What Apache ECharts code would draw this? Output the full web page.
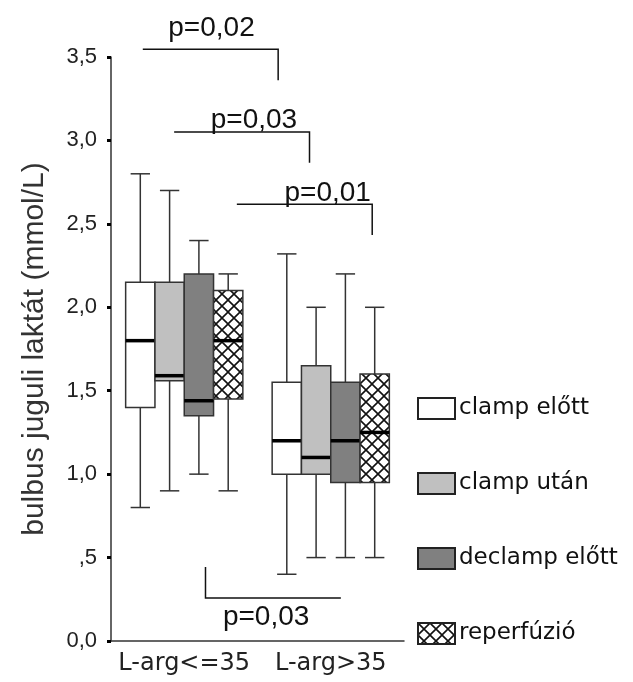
<!DOCTYPE html>
<html><head><meta charset="utf-8">
<script src="https://cdn.jsdelivr.net/npm/echarts@6/dist/echarts.min.js"></script>
<style>html,body{margin:0;padding:0;background:#fff}#c{width:633px;height:682px}</style>
</head><body><div id="c"></div>
<script>
// ---- data ----
const categories = ['L-arg<=35', 'L-arg>35'];
const seriesNames = ['clamp előtt', 'clamp után', 'declamp előtt', 'reperfúzió'];
// each entry: [min, q1, median, q3, max] for categories[0], categories[1]
const clampElott   = [[0.80, 1.40, 1.80, 2.15, 2.80], [0.40, 1.00, 1.20, 1.55, 2.32]];
const clampUtan    = [[0.90, 1.56, 1.59, 2.15, 2.70], [0.50, 1.00, 1.10, 1.65, 2.00]];
const declampElott = [[1.00, 1.35, 1.44, 2.20, 2.40], [0.50, 0.95, 1.20, 1.55, 2.20]];
const reperfuzio   = [[0.90, 1.45, 1.80, 2.10, 2.20], [0.50, 0.95, 1.25, 1.60, 2.00]];
const yTickLabels = ['0,0', ',5', '1,0', '1,5', '2,0', '2,5', '3,0', '3,5'];
const pLabels = ['p=0,02', 'p=0,03', 'p=0,01', 'p=0,03'];

// ---- styling ----
const pc = document.createElement('canvas');
pc.width = 12; pc.height = 12;
const g = pc.getContext('2d');
g.fillStyle = '#fff'; g.fillRect(0, 0, 12, 12);
g.strokeStyle = '#111'; g.lineWidth = 1.6;
g.beginPath(); g.moveTo(0, 0); g.lineTo(12, 12); g.moveTo(12, 0); g.lineTo(0, 12); g.stroke();
const hatch = { image: pc, repeat: 'repeat' };
const fills = ['#ffffff', '#c0c0c0', '#808080', hatch];
const allData = [clampElott, clampUtan, declampElott, reperfuzio];

function makeRenderItem(si) {
  return function (params, api) {
    const cat = api.value(0);
    const band = api.size([1, 0])[0];
    const w = band * 0.2;
    const cx = api.coord([cat, 0])[0] + (si - 1.5) * w;
    const yMin = api.coord([cat, api.value(1)])[1];
    const yQ1 = api.coord([cat, api.value(2)])[1];
    const yMed = api.coord([cat, api.value(3)])[1];
    const yQ3 = api.coord([cat, api.value(4)])[1];
    const yMax = api.coord([cat, api.value(5)])[1];
    const cap = w * 0.33;
    const ls = { stroke: '#333', lineWidth: 1.5 };
    return {
      type: 'group',
      children: [
        { type: 'line', shape: { x1: cx, y1: yMax, x2: cx, y2: yQ3 }, style: ls },
        { type: 'line', shape: { x1: cx, y1: yQ1, x2: cx, y2: yMin }, style: ls },
        { type: 'line', shape: { x1: cx - cap, y1: yMax, x2: cx + cap, y2: yMax }, style: ls },
        { type: 'line', shape: { x1: cx - cap, y1: yMin, x2: cx + cap, y2: yMin }, style: ls },
        { type: 'rect', shape: { x: cx - w / 2, y: yQ3, width: w, height: yQ1 - yQ3 },
          style: { fill: fills[si], stroke: '#333', lineWidth: 1.5 } },
        { type: 'line', shape: { x1: cx - w / 2, y1: yMed, x2: cx + w / 2, y2: yMed },
          style: { stroke: '#000', lineWidth: 3.5 } }
      ]
    };
  };
}

const series = seriesNames.map((name, si) => ({
  name: name,
  type: 'custom',
  renderItem: makeRenderItem(si),
  encode: { x: 0, y: [1, 2, 3, 4, 5] },
  itemStyle: { color: fills[si], borderColor: '#222', borderWidth: 1.5 },
  data: allData[si].map((d, ci) => [ci].concat(d)),
  silent: true
}));

const chart = echarts.init(document.getElementById('c'), null, { renderer: 'canvas' });
chart.setOption({
  animation: false,
  backgroundColor: '#fff',
  grid: { left: 111, right: 229, top: 57, bottom: 41, containLabel: false, outerBoundsMode: 'none' },
  legend: {
    data: seriesNames,
    orient: 'vertical',
    left: 417, top: 397,
    padding: 0,
    itemWidth: 37, itemHeight: 21, itemGap: 52,
    icon: 'rect',
    selectedMode: false,
    textStyle: { fontSize: 23, fontFamily: 'DejaVu Sans', color: '#111', padding: [0, 0, 0, -1] }
  },
  xAxis: {
    type: 'category',
    data: categories,
    axisLine: { lineStyle: { color: '#333', width: 1.5 } },
    axisTick: { alignWithLabel: true, length: 4, lineStyle: { color: '#000', width: 3 } },
    axisLabel: { interval: 0, fontSize: 24, fontFamily: 'DejaVu Sans', color: '#222', margin: 11 },
    splitLine: { show: false }
  },
  yAxis: {
    type: 'value',
    min: 0, max: 3.5, interval: 0.5,
    name: 'bulbus juguli laktát (mmol/L)',
    nameLocation: 'middle',
    nameGap: 61,
    nameTextStyle: { fontSize: 30, fontFamily: 'Liberation Sans', color: '#333' },
    axisLine: { show: true, lineStyle: { color: '#333', width: 1.5 } },
    axisTick: { show: true, length: 4, lineStyle: { color: '#000', width: 3 } },
    axisLabel: {
      fontSize: 22, fontFamily: 'Liberation Sans', color: '#222', margin: 14,
      formatter: v => yTickLabels[Math.round(v / 0.5)]
    },
    splitLine: { show: false }
  },
  series: series
});

// ---- significance brackets (category-index / value units) ----
const brackets = [
  { x1: -0.283, x2: 0.641, y: 3.547, yEnd: 3.36, tx: 0.186, ty: 3.67 },
  { x1: -0.069, x2: 0.855, y: 3.05, yEnd: 2.866, tx: 0.476, ty: 3.119 },
  { x1: 0.359, x2: 1.283, y: 2.618, yEnd: 2.433, tx: 0.979, ty: 2.681 },
  { x1: 0.145, x2: 1.069, y: 0.258, yEnd: 0.443, tx: 0.559, ty: 0.141 }
];
function px(xc, v) {
  const a = chart.convertToPixel({ gridIndex: 0 }, [0, v]);
  const b = chart.convertToPixel({ gridIndex: 0 }, [1, v]);
  return [a[0] + xc * (b[0] - a[0]), a[1]];
}
const graphics = [];
brackets.forEach((b, i) => {
  const p1 = px(b.x1, b.y), p2 = px(b.x2, b.y), p3 = px(b.x2, b.yEnd);
  const isBottom = b.yEnd > b.y;
  if (isBottom) {
    const q = px(b.x1, b.yEnd);
    graphics.push({ type: 'polyline', shape: { points: [q, p1, p2] }, style: { stroke: '#111', lineWidth: 1.5, fill: null } });
  } else {
    graphics.push({ type: 'polyline', shape: { points: [p1, p2, p3] }, style: { stroke: '#111', lineWidth: 1.5, fill: null } });
  }
  const t = px(b.tx, b.ty);
  graphics.push({ type: 'text', x: t[0], y: t[1],
    style: { text: pLabels[i], fontSize: 28, fontFamily: 'Liberation Sans', fill: '#111', align: 'center', verticalAlign: 'middle' } });
});
chart.setOption({ graphic: graphics });
</script></body></html>
